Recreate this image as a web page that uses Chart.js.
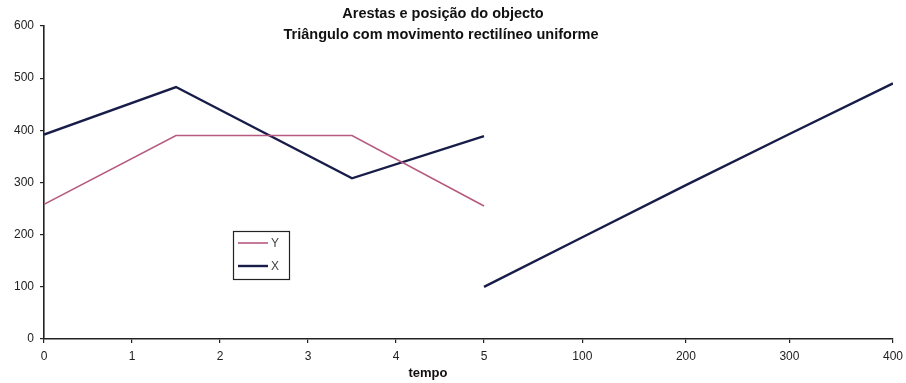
<!DOCTYPE html>
<html>
<head>
<meta charset="utf-8">
<script src="https://cdn.jsdelivr.net/npm/chart.js@4/dist/chart.umd.min.js"></script>
<style>
  html, body { margin: 0; padding: 0; background: #fff; }
  #wrap { width: 906px; height: 383px; }
</style>
</head>
<body>
<div id="wrap"><canvas id="c" width="906" height="383"></canvas></div>
<script>
// Edges of the triangle over time (first part of the time axis, 0..5)
const tempoArestas = [0, 1.5, 3.5, 5];
const arestaY = [258, 390, 390, 255];
const arestaX = [392, 483, 308, 389];

// Object position over time (second part of the time axis, 5..400)
const tempoPosicao = [5, 100, 200, 300, 400];
const posicao = [100, 195, 295, 393, 490];

// Time axis tick labels
const tempoTicks = [0, 1, 2, 3, 4, 5, 100, 200, 300, 400];
const valorTicks = [0, 100, 200, 300, 400, 500, 600];

const titulo = ['Arestas e posição do objecto', 'Triângulo com movimento rectilíneo uniforme'];
const tituloEixoX = 'tempo';

// The time axis is broken: 0..5 keeps its own unit, beyond 5 it is compressed
const ESCALA_LONGA = 0.011766;
function eixoTempo(t) {
  return t <= 5 ? t : 5 + (t - 5) * ESCALA_LONGA;
}
function pontos(ts, vs) {
  return ts.map((t, i) => ({ x: eixoTempo(t), y: vs[i] }));
}

const corY = '#b65a80';
const corX = '#171c48';
const fonte = '"Liberation Sans", Arial, sans-serif';

// Two-line title and the axis caption, placed by hand
const textosPlugin = {
  id: 'textos',
  afterDraw(chart) {
    const ctx = chart.ctx;
    ctx.save();
    ctx.fillStyle = '#111';
    ctx.textAlign = 'center';
    ctx.textBaseline = 'middle';
    ctx.font = 'bold 14.5px ' + fonte;
    ctx.fillText(titulo[0], 443, 14);
    ctx.fillText(titulo[1], 441, 35);
    ctx.font = 'bold 13px ' + fonte;
    ctx.fillText(tituloEixoX, 428, 373);
    ctx.restore();
  }
};

const legendaPlugin = {
  id: 'legendaCaixa',
  afterDraw(chart) {
    const ctx = chart.ctx;
    const x0 = 233, y0 = 231, w = 56, h = 48;
    ctx.save();
    ctx.fillStyle = '#fff';
    ctx.fillRect(x0, y0, w, h);
    ctx.strokeStyle = '#222';
    ctx.lineWidth = 1.2;
    ctx.strokeRect(x0 + 0.5, y0 + 0.5, w, h);
    const itens = chart.data.datasets.filter(d => d.legenda);
    ctx.font = '12px ' + fonte;
    ctx.textBaseline = 'middle';
    itens.forEach((d, i) => {
      const y = y0 + 12 + i * 23;
      ctx.strokeStyle = d.borderColor;
      ctx.lineWidth = d.borderWidth;
      ctx.beginPath();
      ctx.moveTo(x0 + 5, y);
      ctx.lineTo(x0 + 35, y);
      ctx.stroke();
      ctx.fillStyle = '#444';
      ctx.fillText(d.label, x0 + 38, y + 1);
    });
    ctx.restore();
  }
};

new Chart(document.getElementById('c'), {
  type: 'line',
  data: {
    datasets: [
      { label: 'Y', legenda: true, data: pontos(tempoArestas, arestaY),
        borderColor: corY, borderWidth: 1.6 },
      { label: 'X', legenda: true, data: pontos(tempoArestas, arestaX),
        borderColor: corX, borderWidth: 2.4 },
      { label: 'posição', legenda: false, data: pontos(tempoPosicao, posicao),
        borderColor: corX, borderWidth: 2.4 }
    ]
  },
  options: {
    responsive: false,
    animation: false,
    devicePixelRatio: 1,
    elements: { point: { radius: 0 }, line: { tension: 0 } },
    layout: { padding: { left: 0, right: 0, top: 26, bottom: 0 } },
    plugins: { legend: { display: false }, title: { display: false }, tooltip: { enabled: false } },
    scales: {
      x: {
        type: 'linear',
        min: 0,
        max: eixoTempo(400),
        afterBuildTicks(scale) {
          scale.ticks = tempoTicks.map(t => ({ value: eixoTempo(t) }));
        },
        afterFit(scale) { scale.height = 44; scale.paddingRight = 13; },
        border: { display: true, color: '#222', width: 1.6 },
        grid: { display: true, drawOnChartArea: false, drawTicks: true, tickLength: 4, color: '#222', lineWidth: 1.2 },
        ticks: {
          autoSkip: false, maxRotation: 0, padding: 6,
          color: '#222', font: { family: fonte, size: 12 },
          callback: (v, i) => tempoTicks[i]
        }
      },
      y: {
        type: 'linear',
        min: 0,
        max: 600,
        afterBuildTicks(scale) {
          scale.ticks = valorTicks.map(v => ({ value: v }));
        },
        afterFit(scale) { scale.width = 44; },
        border: { display: true, color: '#222', width: 1.6 },
        grid: { display: true, drawOnChartArea: false, drawTicks: true, tickLength: 4, color: '#222', lineWidth: 1.2 },
        ticks: { padding: 6, color: '#222', font: { family: fonte, size: 12 } }
      }
    }
  },
  plugins: [textosPlugin, legendaPlugin]
});
</script>
</body>
</html>
